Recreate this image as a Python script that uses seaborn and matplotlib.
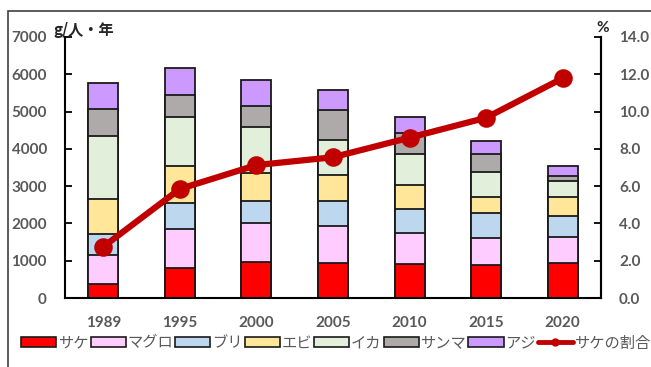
import matplotlib
matplotlib.use("Agg")
import matplotlib.pyplot as plt
from matplotlib.patches import Patch, Rectangle
from matplotlib.lines import Line2D
import numpy as np
import pandas as pd
import seaborn as sns

# Per-capita purchase volume by fish species (g/person/year) and salmon share (%)
years = ["1989", "1995", "2000", "2005", "2010", "2015", "2020"]
species = ["サケ", "マグロ", "ブリ", "エビ", "イカ", "サンマ", "アジ"]
sake = [370, 812, 965, 940, 910, 885, 930]
maguro = [780, 1046, 1045, 1000, 825, 725, 695]
buri = [575, 697, 600, 670, 650, 660, 580]
ebi = [930, 985, 730, 690, 645, 445, 495]
ika = [1685, 1320, 1250, 950, 830, 655, 435]
sanma = [730, 580, 560, 790, 555, 480, 145]
aji = [685, 735, 695, 535, 445, 365, 265]
sake_share = [2.75, 5.85, 7.13, 7.55, 8.6, 9.67, 11.79]

colors = ["#FF0000", "#FFCCFF", "#BDD7EE", "#FFE699", "#E2EFDA", "#AEAAAA", "#CC99FF"]
line_color = "#C00000"
text_grey = "#595959"
num_font = ["Lato", "DejaVu Sans"]

sns.set_theme(style="white")
plt.rcParams["font.family"] = ["Noto Sans CJK JP", "DejaVu Sans"]

layers = [sake, maguro, buri, ebi, ika, sanma, aji]
cum = np.cumsum(np.array(layers), axis=0)

W, H = 651, 367
fig = plt.figure(figsize=(W / 100, H / 100), dpi=100)
ax = fig.add_axes([65 / W, 1 - 298 / H, (601 - 65) / W, (298 - 37) / H])

# stacked bars: draw cumulative totals from the top layer down
for i in range(len(species) - 1, -1, -1):
    df = pd.DataFrame({"year": years, "value": cum[i]})
    sns.barplot(data=df, x="year", y="value", color=colors[i], saturation=1,
                width=0.39, edgecolor="#1a1a1a", linewidth=1.3, ax=ax, zorder=2)

ax.set_ylim(0, 7000)
ax.set_xlim(-0.5, 6.5)
ax.set_yticks(range(0, 7001, 1000))
ax.set_xlabel("")
ax.set_ylabel("")
ax.spines["top"].set_visible(False)
for s in ["left", "bottom", "right"]:
    ax.spines[s].set_color("black")
    ax.spines[s].set_linewidth(1.5)
ax.tick_params(axis="y", direction="in", length=5, width=1.3, color="black",
               left=True, pad=13, labelcolor=text_grey, labelsize=11)
ax.tick_params(axis="x", length=0, pad=13, labelcolor=text_grey, labelsize=11)
for lab in ax.get_xticklabels() + ax.get_yticklabels():
    lab.set_fontweight("bold")
    lab.set_family(num_font)

# salmon share line on secondary axis
ax2 = ax.twinx()
sns.pointplot(x=years, y=sake_share, color=line_color, markers="o",
              linewidth=4.5, markersize=10, ax=ax2, zorder=5)
ax2.set_ylim(0, 14)
ax2.set_xlim(-0.5, 6.5)
ax2.set_yticks(np.arange(0, 14.1, 2))
ax2.set_yticklabels([f"{v:.1f}" for v in np.arange(0, 14.1, 2)])
for s in ["top", "left", "bottom"]:
    ax2.spines[s].set_visible(False)
ax2.spines["right"].set_color("black")
ax2.spines["right"].set_linewidth(1.5)
ax2.tick_params(axis="y", direction="in", length=5, width=1.3, color="black",
                right=True, pad=13, labelcolor=text_grey, labelsize=11)
for lab in ax2.get_yticklabels():
    lab.set_fontweight("bold")
    lab.set_family(num_font)
ax2.grid(False)
ax.grid(False)

# unit labels
fig.text(53 / W, 1 - 30 / H, "g/人・年", fontsize=11, fontweight="bold",
         color="#262626", ha="left", va="center")
fig.text(596 / W, 1 - 28 / H, "%", fontsize=11, fontweight="bold",
         color="#262626", ha="left", va="center", family=num_font)

# legend
handles = [Patch(facecolor=c, edgecolor="#1a1a1a", linewidth=1.2) for c in colors]
handles.append(Line2D([0], [0], color=line_color, linewidth=3.5, marker="o",
                      markersize=5))
labels = species + ["サケの割合"]
leg = fig.legend(handles, labels, loc="center left",
                 bbox_to_anchor=(15 / W, 1 - 343 / H), ncol=8, frameon=False,
                 fontsize=11, handlelength=2.3, handleheight=0.6,
                 handletextpad=0.1, columnspacing=0.15, borderaxespad=0)
for t in leg.get_texts():
    t.set_color(text_grey)

# outer frame
fig.patches.append(Rectangle((8 / W, -0.1), 1.0, 1.1 - 11 / H,
                             transform=fig.transFigure, fill=False,
                             edgecolor="#404040", linewidth=1.2))

fig.savefig("out.png", dpi=100)
